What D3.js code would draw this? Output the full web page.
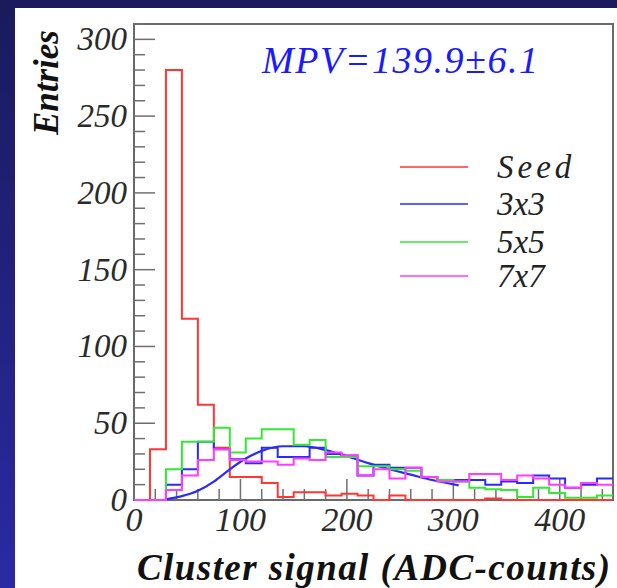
<!DOCTYPE html>
<html><head><meta charset="utf-8">
<script src="https://cdn.jsdelivr.net/npm/d3@7"></script>
<style>body{margin:0;padding:0;overflow:hidden;background:#fff}</style>
</head><body><svg id="c" width="617" height="588"></svg>
<script>
// ---- data (bins of 15 ADC counts, 0..450) ----
const binEdges = [0,15,30,45,60,75,90,105,120,135,150,165,180,195,210,225,240,255,270,285,300,315,330,345,360,375,390,405,420,435,450];
const seed  = [0,33,280,118,62,34,15,15,11,2,5,5,3,4,3,0,3,0,0,0,0,0,1,0,0,0,0,0,0,0];
const c3x3  = [0,0,10,20,38,33,26.5,24,34,28,28,34,30,29,16,23,21,21,15,13,13,13,10,12,11,16,14,8,10,14];
const c5x5  = [0,0,20,38,38,47,31,40,46,46,36,39,28,28,22,22,20,19,15,13,12,8,7,6.5,2,8,4.5,1.5,1.5,3];
const c7x7  = [0,0,6.5,16,26,33,26,25,25,23,27,26,31,29,16,20,14,21,15,12,12,17,17,13,16,14,10,8,11,10];
const fitX  = [30,45,60,75,90,105,120,140,160,180,200,220,240,260,280,305];
const fitY  = [0.5,2.5,6,12,20,27,32,35,35,32.5,28.5,24,20,16.5,13,9.5];
const xTicks = [0,100,200,300,400];
const yTicks = [0,50,100,150,200,250,300];
const seriesNames = ["Seed","3x3","5x5","7x7"];
const seriesColors = ["#ff3636","#2a2aff","#36e836","#ff3cff"];
const mpvText = "MPV=139.9\u00b16.1";

// ---- layout ----
const svg = d3.select("#c");
const W = 617, H = 588;
const defs = svg.append("defs");
const g0 = defs.append("linearGradient").attr("id","bg").attr("x1",0).attr("y1",0).attr("x2",0).attr("y2",1);
g0.append("stop").attr("offset","0%").attr("stop-color","#1a1a5c");
g0.append("stop").attr("offset","100%").attr("stop-color","#2a2aa4");
svg.append("rect").attr("width",W).attr("height",H).attr("fill","url(#bg)");
svg.append("rect").attr("x",15).attr("y",8).attr("width",W-15).attr("height",H-8).attr("fill","#ffffff");

const L = 134, R = 613, T = 24, B = 500;
const x = d3.scaleLinear().domain([0,450]).range([L,R]);
const y = d3.scaleLinear().domain([0,310]).range([B,T]);
const font = "'Liberation Serif','Times New Roman',serif";

// frame
svg.append("rect").attr("x",L).attr("y",T).attr("width",R-L).attr("height",B-T)
  .attr("fill","none").attr("stroke","#6a6a6a").attr("stroke-width",2);

// ticks
const yMinor = d3.range(0,311,10);
svg.append("g").selectAll("line").data(yMinor).join("line")
  .attr("x1",L).attr("x2",d=> d%50===0 ? L+21 : L+11)
  .attr("y1",d=>y(d)).attr("y2",d=>y(d)).attr("stroke","#707070").attr("stroke-width",1.5);
const xMinor = d3.range(0,451,20);
svg.append("g").selectAll("line").data(xMinor).join("line")
  .attr("y1",B).attr("y2",d=> d%100===0 ? B-21 : B-11)
  .attr("x1",d=>x(d)).attr("x2",d=>x(d)).attr("stroke","#707070").attr("stroke-width",1.5);

// tick labels
svg.append("g").selectAll("text").data(yTicks).join("text")
  .attr("x",L-7).attr("y",d=>y(d)+11).attr("text-anchor","end")
  .attr("font-family",font).attr("font-style","italic").attr("font-size",33).attr("fill","#2a2a2a")
  .text(d=>d);
svg.append("g").selectAll("text").data(xTicks).join("text")
  .attr("x",d=>x(d)).attr("y",B+31).attr("text-anchor","middle")
  .attr("font-family",font).attr("font-style","italic").attr("font-size",34).attr("fill","#2a2a2a")
  .text(d=>d);

// axis titles
svg.append("text").attr("x",137).attr("y",580)
  .attr("font-family",font).attr("font-style","italic").attr("font-weight","bold")
  .attr("font-size",37).attr("fill","#111").attr("textLength",473).attr("lengthAdjust","spacing")
  .text("Cluster signal (ADC-counts)");
svg.append("text").attr("transform","translate(58,30) rotate(-90)").attr("text-anchor","end")
  .attr("font-family",font).attr("font-style","italic").attr("font-weight","bold")
  .attr("font-size",35).attr("fill","#111").text("Entries");

// histograms
const line = d3.line().x(d=>x(d[0])).y(d=>y(d[1])).curve(d3.curveStepAfter);
function pts(vals){ const p = vals.map((v,i)=>[binEdges[i],v]); p.push([binEdges[vals.length], vals[vals.length-1]]); return p; }
const hg = svg.append("g");
hg.append("path").attr("d",line(pts(seed))).attr("fill","none").attr("stroke",seriesColors[0]).attr("stroke-width",2);
hg.append("path").attr("d",line(pts(c3x3))).attr("fill","none").attr("stroke",seriesColors[1]).attr("stroke-width",2);
// fit curve
const fitLine = d3.line().x(d=>x(d[0])).y(d=>y(d[1])).curve(d3.curveMonotoneX);
hg.append("path").attr("d",fitLine(fitX.map((v,i)=>[v,fitY[i]]))).attr("fill","none").attr("stroke","#2a2aff").attr("stroke-width",2.2);
hg.append("path").attr("d",line(pts(c5x5))).attr("fill","none").attr("stroke",seriesColors[2]).attr("stroke-width",2);
hg.append("path").attr("d",line(pts(c7x7))).attr("fill","none").attr("stroke",seriesColors[3]).attr("stroke-width",2);

// MPV label
svg.append("text").attr("x",262).attr("y",73).attr("font-family",font).attr("font-style","italic")
  .attr("font-size",38).attr("fill","#1a1aff").attr("textLength",276).attr("lengthAdjust","spacing").text(mpvText);

// legend
const legY = [167,204,242,276];
const lg = svg.append("g");
seriesNames.forEach((n,i)=>{
  lg.append("line").attr("x1",400).attr("x2",468).attr("y1",legY[i]).attr("y2",legY[i])
    .attr("stroke",seriesColors[i]).attr("stroke-width",2).attr("opacity",0.75);
  lg.append("text").attr("x",497).attr("y",legY[i]+11).attr("font-family",font).attr("font-style","italic")
    .attr("font-size",33).attr("fill","#222").attr("letter-spacing", i===0?4:0).text(n);
});
</script></body></html>
